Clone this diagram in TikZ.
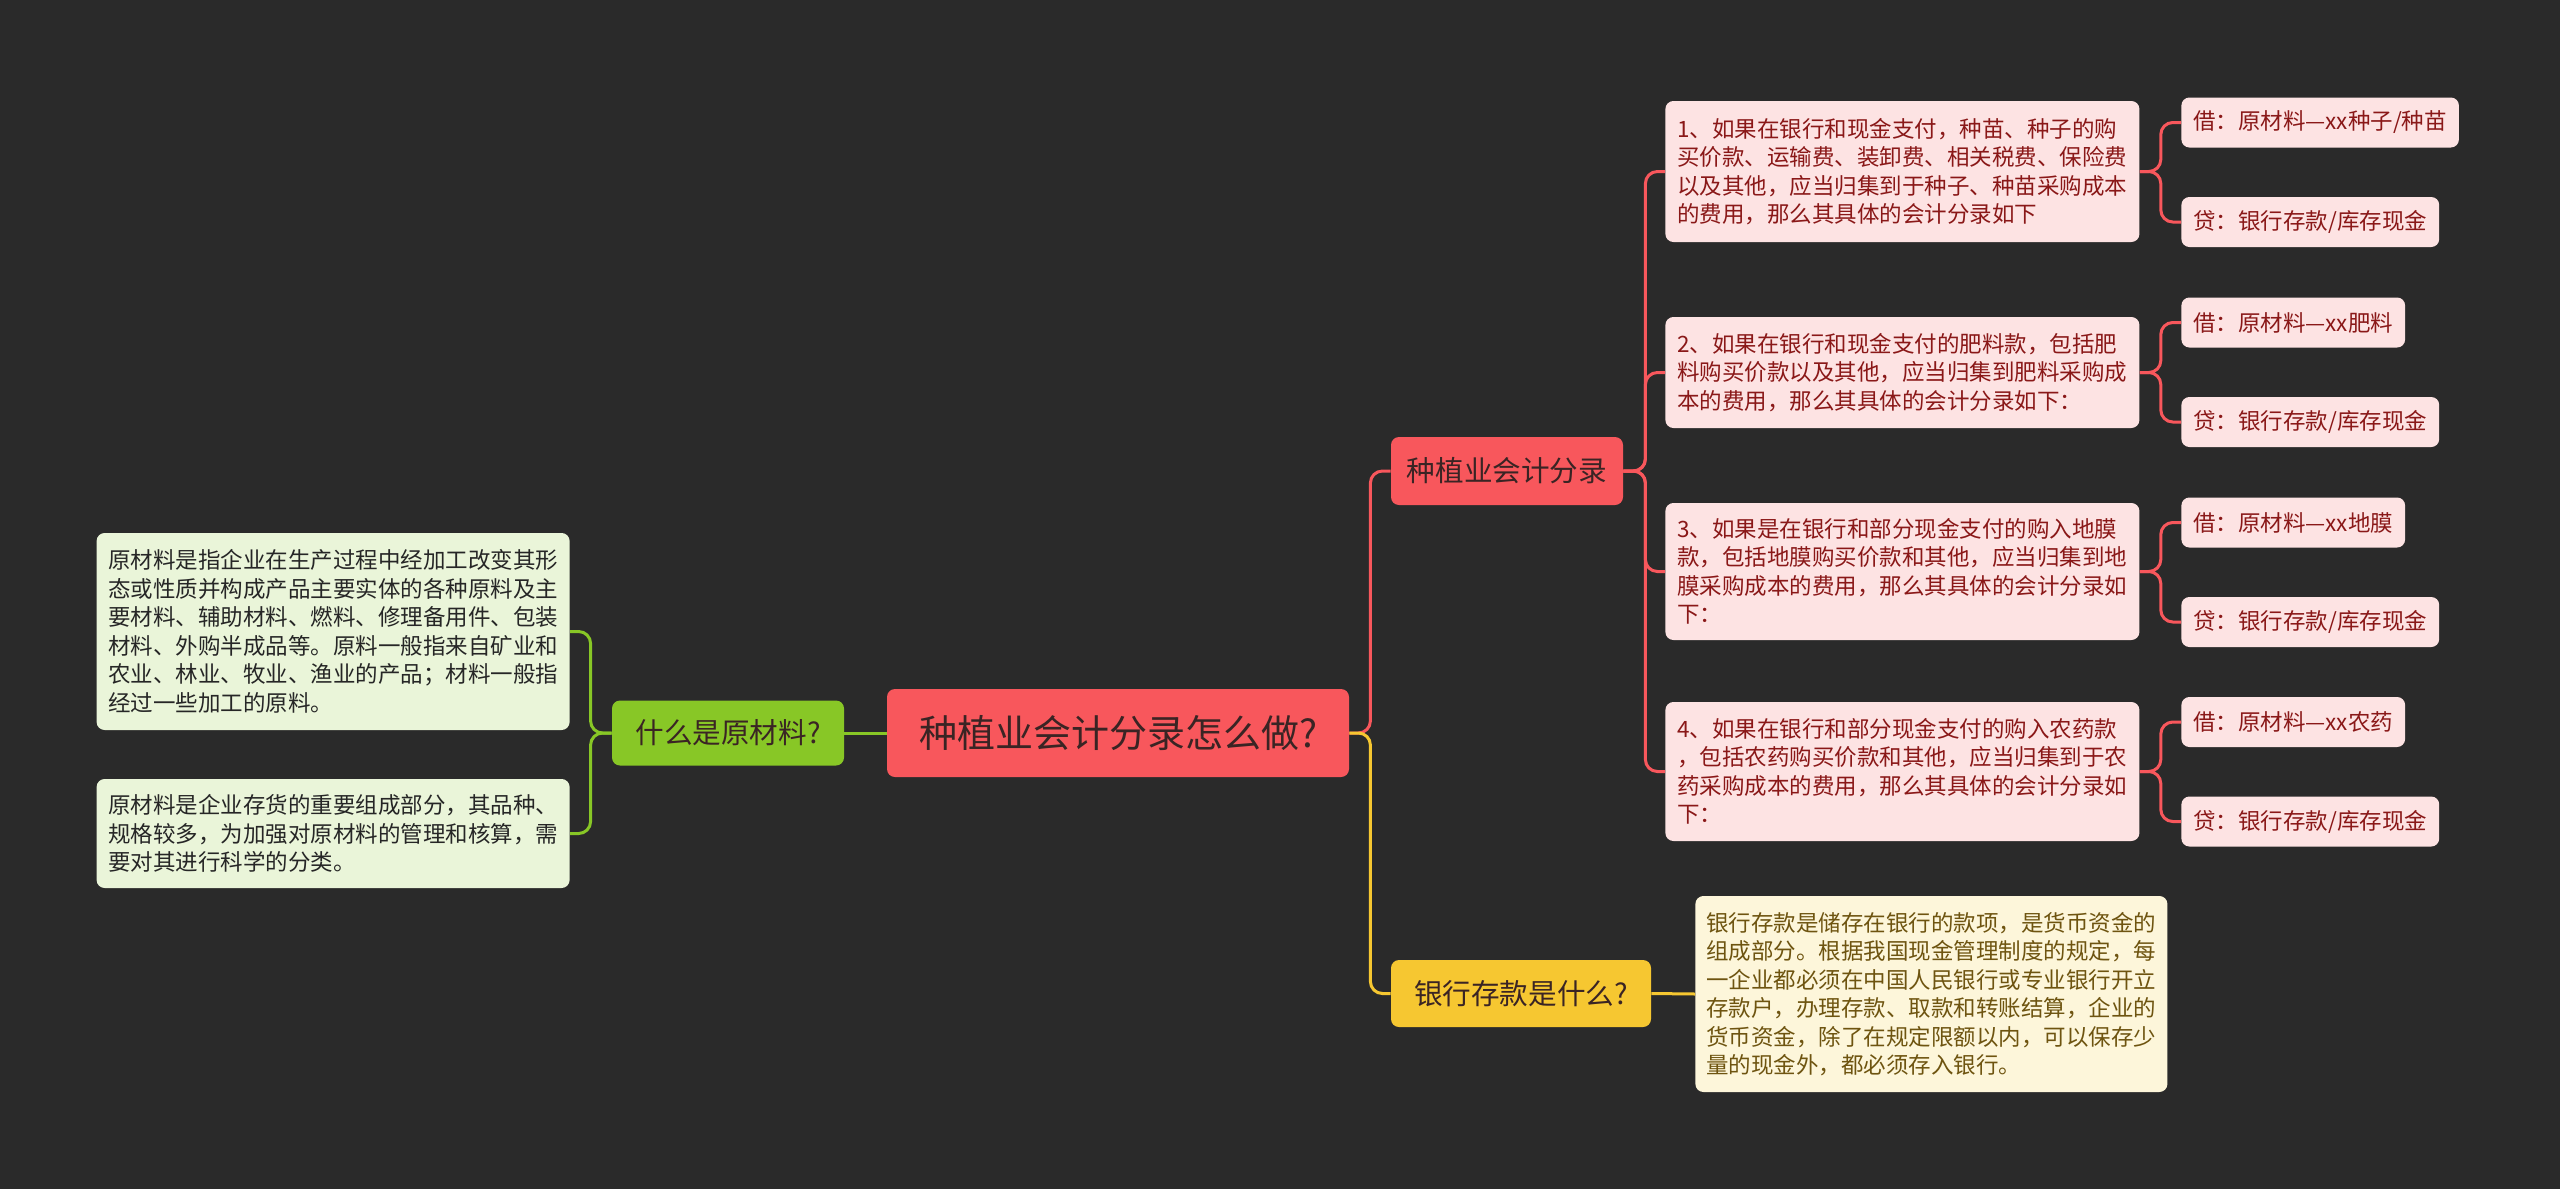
\documentclass[tikz,border=0pt]{standalone}
\usepackage{fontspec}
\setmainfont{Noto Sans CJK SC}
\usepackage{xcolor}
\usepackage{tikz}
\usetikzlibrary{positioning}
\definecolor{bgdark}{HTML}{2A2A2A}
\definecolor{mapred}{HTML}{F8575C}
\definecolor{mapgreen}{HTML}{88C726}
\definecolor{mapyellow}{HTML}{F6C731}
\definecolor{pinkfill}{HTML}{FDE3E3}
\definecolor{pinktext}{HTML}{8A1818}
\definecolor{greenfill}{HTML}{EAF5D9}
\definecolor{yellowfill}{HTML}{FDF6DA}
\definecolor{yellowtext}{HTML}{6E5410}
\definecolor{topictext}{HTML}{3A2424}

\begin{document}
\begin{tikzpicture}[x=0.5pt,y=-0.5pt,
  topic/.style={rounded corners=4pt,inner sep=0pt,text=topictext,
    font=\fontsize{14.3}{17}\selectfont},
  note/.style={rounded corners=4pt,inner sep=0pt,align=left,
    font=\fontsize{11.25}{14.25}\selectfont},
  pinknote/.style={note,fill=pinkfill,text=pinktext},
  leaf/.style={pinknote,anchor=west,inner xsep=6pt,minimum height=25pt},
  link/.style={line width=1.5pt,rounded corners=6pt}]
  \fill[bgdark] (0,0) rectangle (2560,1189);
  \useasboundingbox (0,0) rectangle (2560,1189);

  \node[topic,fill=mapred,minimum width=231pt,minimum height=44pt,
    font=\fontsize{19}{22}\selectfont] (root) at (1118,733) {种植业会计分录怎么做?};
  \node[topic,fill=mapgreen,minimum width=116pt,minimum height=32.5pt] (yuan) at (728,733) {什么是原材料?};
  \node[topic,fill=mapred,minimum width=116pt,minimum height=34pt] (fenlu) at (1507,471) {种植业会计分录};
  \node[topic,fill=mapyellow,minimum width=130pt,minimum height=33.5pt] (cunkuan) at (1521,993.5) {银行存款是什么?};

  \node[pinknote,anchor=west,minimum width=237pt,minimum height=70.5pt] (case1) at (1665,171.5)
    {1、如果在银行和现金支付，种苗、种子的购\\买价款、运输费、装卸费、相关税费、保险费\\以及其他，应当归集到于种子、种苗采购成本\\的费用，那么其具体的会计分录如下};
  \node[pinknote,anchor=west,minimum width=237pt,minimum height=55.5pt] (case2) at (1665,372.5)
    {2、如果在银行和现金支付的肥料款，包括肥\\料购买价款以及其他，应当归集到肥料采购成\\本的费用，那么其具体的会计分录如下：};
  \node[pinknote,anchor=west,minimum width=237pt,minimum height=68.5pt] (case3) at (1665,571.5)
    {3、如果是在银行和部分现金支付的购入地膜\\款，包括地膜购买价款和其他，应当归集到地\\膜采购成本的费用，那么其具体的会计分录如\\下：};
  \node[pinknote,anchor=west,minimum width=237pt,minimum height=69.5pt] (case4) at (1665,771.5)
    {4、如果在银行和部分现金支付的购入农药款\\，包括农药购买价款和其他，应当归集到于农\\药采购成本的费用，那么其具体的会计分录如\\下：};

  \node[leaf] (jie1) at (2181,122.5) {借：原材料—xx种子/种苗};
  \node[leaf] (dai1) at (2181,222) {贷：银行存款/库存现金};
  \node[leaf] (jie2) at (2181,322.5) {借：原材料—xx肥料};
  \node[leaf] (dai2) at (2181,422) {贷：银行存款/库存现金};
  \node[leaf] (jie3) at (2181,522.5) {借：原材料—xx地膜};
  \node[leaf] (dai3) at (2181,622) {贷：银行存款/库存现金};
  \node[leaf] (jie4) at (2181,722) {借：原材料—xx农药};
  \node[leaf] (dai4) at (2181,821.5) {贷：银行存款/库存现金};

  \node[note,anchor=west,fill=yellowfill,text=yellowtext,minimum width=236pt,minimum height=98pt] (cunkuantxt) at (1695,994)
    {银行存款是储存在银行的款项，是货币资金的\\组成部分。根据我国现金管理制度的规定，每\\一企业都必须在中国人民银行或专业银行开立\\存款户，办理存款、取款和转账结算，企业的\\货币资金，除了在规定限额以内，可以保存少\\量的现金外，都必须存入银行。};

  \node[note,anchor=east,fill=greenfill,text=black!85,minimum width=236.5pt,minimum height=98.5pt] (yuan1) at (570,631.5)
    {原材料是指企业在生产过程中经加工改变其形\\态或性质并构成产品主要实体的各种原料及主\\要材料、辅助材料、燃料、修理备用件、包装\\材料、外购半成品等。原料一般指来自矿业和\\农业、林业、牧业、渔业的产品；材料一般指\\经过一些加工的原料。};
  \node[note,anchor=east,fill=greenfill,text=black!85,minimum width=236.5pt,minimum height=54.5pt] (yuan2) at (570,833.5)
    {原材料是企业存货的重要组成部分，其品种、\\规格较多，为加强对原材料的管理和核算，需\\要对其进行科学的分类。};

  \draw[link,mapred] (root.east) -- ++(21,0) |- (fenlu.west);
  \draw[link,mapyellow] (root.east) -- ++(21,0) |- (cunkuan.west);
  \draw[link,mapgreen] (root.west) -- (yuan.east);
  \foreach \n in {yuan1,yuan2}
    \draw[link,mapgreen] (yuan.west) -- ++(-21,0) |- (\n.east);
  \foreach \n in {case1,case2,case3,case4}
    \draw[link,mapred] (fenlu.east) -- ++(22,0) |- (\n.west);
  \foreach \c/\a/\b in {case1/jie1/dai1,case2/jie2/dai2,case3/jie3/dai3,case4/jie4/dai4}{
    \draw[link,mapred] (\c.east) -- ++(21,0) |- (\a.west);
    \draw[link,mapred] (\c.east) -- ++(21,0) |- (\b.west);
  }
  \draw[link,mapyellow] (cunkuan.east) -- (cunkuantxt.west);
\end{tikzpicture}
\end{document}
